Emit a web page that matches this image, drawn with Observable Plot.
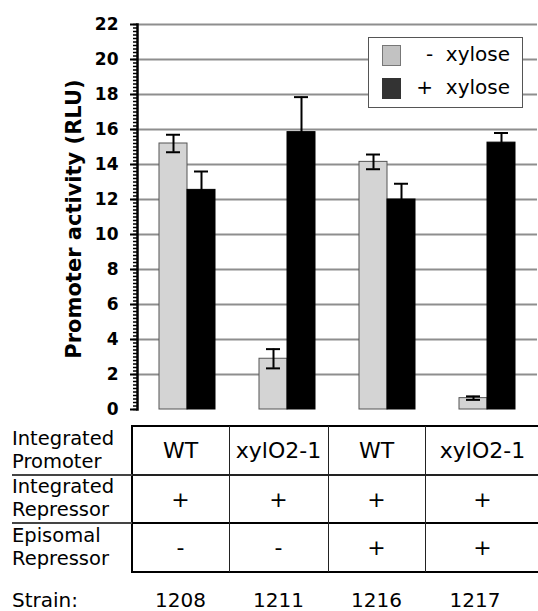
<!DOCTYPE html>
<html><head><meta charset="utf-8">
<script src="https://cdn.jsdelivr.net/npm/d3@7"></script>
<script src="https://cdn.jsdelivr.net/npm/@observablehq/plot@0.6"></script>
<style>
body{margin:0;background:#fff;font-family:"DejaVu Sans",Verdana,sans-serif;color:#000;}
#wrap{position:relative;width:538px;height:611px;overflow:hidden;background:#fff;}
#chart{position:absolute;left:0;top:0;}
.abs{position:absolute;}
#legend{position:absolute;left:368px;top:37px;width:153px;height:69px;border:1px solid #555;background:#fff;font-size:20px;}
.lrow{position:absolute;left:0;width:153px;height:33px;}
.sw{position:absolute;left:13px;top:6px;width:19px;height:21px;box-sizing:border-box;}
.lt{position:absolute;right:12px;top:3px;white-space:pre;line-height:24px;}
.cell{position:absolute;display:flex;align-items:center;justify-content:center;font-size:22px;}
.rl{position:absolute;display:flex;align-items:center;font-size:19.5px;line-height:22.8px;}
.st{position:absolute;font-size:20px;line-height:20px;}
.sc{position:absolute;text-align:center;font-size:20px;line-height:20px;}
</style></head><body><div id="wrap"><div id="chart"></div></div>
<script>
const strains = ["1208", "1211", "1216", "1217"];
const conditions = ["- xylose", "+ xylose"];
const minusXylose = [15.2, 2.9, 14.15, 0.65];
const plusXylose = [12.55, 15.85, 12.0, 15.25];
const minusErr = [0.5, 0.55, 0.42, 0.1];
const plusErr = [1.05, 2.0, 0.9, 0.55];
const yTicks = [0, 2, 4, 6, 8, 10, 12, 14, 16, 18, 20, 22];
const rowLabels = [["Integrated", "Promoter"], ["Integrated", "Repressor"], ["Episomal", "Repressor"]];
const integratedPromoter = ["WT", "xylO2-1", "WT", "xylO2-1"];
const integratedRepressor = ["+", "+", "+", "+"];
const episomalRepressor = ["-", "-", "+", "+"];
const barColors = ["#d4d4d4", "#000000"];
const legendColors = ["#c2c2c2", "#333333"];

const data = [];
strains.forEach((s, i) => {
  data.push({strain: s, cond: conditions[0], value: minusXylose[i], err: minusErr[i]});
  data.push({strain: s, cond: conditions[1], value: plusXylose[i], err: plusErr[i]});
});
const minorTicks = d3.range(0, 22.001, 0.2);

const chart = Plot.plot({
  width: 538, height: 415,
  marginTop: 24, marginBottom: 6, marginLeft: 137, marginRight: 1,
  style: {fontFamily: "DejaVu Sans, Verdana, sans-serif", background: "white", overflow: "visible"},
  fx: {domain: strains, padding: 0, axis: null},
  x: {domain: conditions, paddingInner: 0, paddingOuter: 0.76, axis: null},
  y: {domain: [0, 22], axis: null},
  color: {domain: conditions, range: barColors},
  marks: [
    Plot.gridY(yTicks.filter(d => d > 0), {stroke: "#8e8e8e", strokeOpacity: 1, strokeWidth: 2}),
    Plot.barY(data, {fx: "strain", x: "cond", y: "value", fill: "cond",
      stroke: d => d.cond === conditions[0] ? "#555" : "#000", strokeWidth: 1}),
    Plot.ruleX(data, {fx: "strain", x: "cond", y1: d => d.value - d.err, y2: d => d.value + d.err, stroke: "#000", strokeWidth: 2}),
    Plot.tickY(data, {fx: "strain", x: "cond", y: d => d.value + d.err, insetLeft: 7, insetRight: 7, stroke: "#000", strokeWidth: 2}),
    Plot.tickY(data, {fx: "strain", x: "cond", y: d => d.value - d.err, insetLeft: 7, insetRight: 7, stroke: "#000", strokeWidth: 2}),
    Plot.axisY({ticks: minorTicks, tickSize: 4, tickFormat: () => "", label: null, strokeWidth: 1.5}),
    Plot.axisY({ticks: yTicks, tickSize: 7, tickPadding: 12, label: null, fontSize: 17, fontWeight: "bold", strokeWidth: 2}),
    Plot.frame({anchor: "left", facetAnchor: "left", stroke: "#000", strokeWidth: 2.5}),
    Plot.text(["Promoter activity (RLU)"], {frameAnchor: "left", textAnchor: "middle", rotate: -90, dx: -63, dy: 2, fontSize: 21, fontWeight: "bold", facetAnchor: "left"})
  ]
});
const wrap = document.getElementById("wrap");
document.getElementById("chart").appendChild(chart);

// legend
const lg = document.createElement("div");
lg.id = "legend";
conditions.forEach((c, i) => {
  const r = document.createElement("div");
  r.className = "lrow";
  r.style.top = (i * 33 + 1) + "px";
  const sw = document.createElement("div");
  sw.className = "sw";
  sw.style.background = legendColors[i];
  sw.style.border = i === 0 ? "1px solid #777" : "none";
  const t = document.createElement("div");
  t.className = "lt";
  t.textContent = c.replace(" ", "  ");
  r.appendChild(sw); r.appendChild(t);
  lg.appendChild(r);
});
wrap.appendChild(lg);

// table
const colX = [132, 229, 328, 425, 540];
const rowY = [426, 475, 523, 572];
function line(x, y, w, h, color) {
  const d = document.createElement("div");
  d.className = "abs";
  Object.assign(d.style, {left: x + "px", top: y + "px", width: w + "px", height: h + "px", background: color});
  wrap.appendChild(d);
}
function box(cls, x, y, w, h, html) {
  const d = document.createElement("div");
  d.className = cls;
  Object.assign(d.style, {left: x + "px", top: y + "px", width: w + "px", height: h + "px"});
  d.innerHTML = html;
  wrap.appendChild(d);
}
const rows = [integratedPromoter, integratedRepressor, episomalRepressor];
rows.forEach((vals, r) => {
  box("rl", 12, rowY[r], 120, rowY[r + 1] - rowY[r], rowLabels[r].join("<br>"));
  vals.forEach((v, c) => box("cell", colX[c], rowY[r], colX[c + 1] - colX[c], rowY[r + 1] - rowY[r], v));
});
// borders
line(131, 425, 410, 2, "#000");
line(131, 425, 2, 148, "#000");
line(131, 571, 410, 2, "#000");
line(132, 474, 410, 1.5, "#222");
line(132, 522, 410, 2, "#000");
[229, 328, 425].forEach(x => line(x - 0.5, 426, 1.5, 146, "#222"));
line(12, 474, 120, 1.5, "#444");
line(12, 522, 120, 1.5, "#444");
// strain row
box("st", 12, 590, 120, 20, "Strain:");
strains.forEach((s, c) => box("sc", colX[c], 590, colX[c + 1] - colX[c] - (c === 3 ? 15 : 0), 20, s));
</script></body></html>
